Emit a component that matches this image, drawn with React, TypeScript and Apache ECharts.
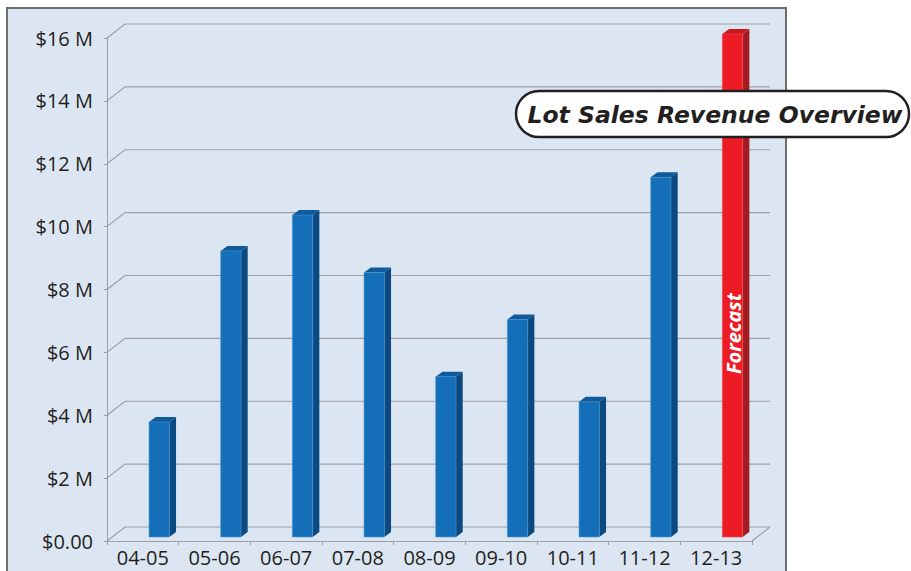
import React, { useEffect, useRef } from 'react';
import * as echarts from 'echarts';

const categories = ['04-05', '05-06', '06-07', '07-08', '08-09', '09-10', '10-11', '11-12', '12-13'];
const revenueM = [3.66, 9.1, 10.24, 8.41, 5.1, 6.92, 4.3, 11.44, 16.0];
const isForecast = [false, false, false, false, false, false, false, false, true];
const yTicks = [0, 2, 4, 6, 8, 10, 12, 14, 16];
const titleText = 'Lot Sales Revenue Overview';
const forecastText = 'Forecast';
const forecastLabelAt = 6.6;

const DEPTH_X = 18;
const DEPTH_Y = 14;
const GRID_COLOR = '#9d9fa2';
const TEXT_COLOR = '#231f20';

export default function App() {
  const ref = useRef<HTMLDivElement>(null);

  useEffect(() => {
    if (!ref.current) return;
    const chart = echarts.init(ref.current, undefined, { renderer: 'svg' });

    const option: any = {
      animation: false,
      backgroundColor: '#ffffff',
      grid: { left: 107, top: 38, right: 159, bottom: 30, outerBoundsMode: 'none' },
      xAxis: {
        type: 'category',
        data: categories,
        axisLine: { show: true, lineStyle: { color: GRID_COLOR, width: 1 } },
        axisTick: { show: true, length: 4, lineStyle: { color: GRID_COLOR } },
        axisLabel: { color: TEXT_COLOR, fontSize: 20, fontFamily: 'Open Sans', margin: 6 },
        splitLine: { show: false },
      },
      yAxis: {
        type: 'value',
        min: 0,
        max: 16,
        interval: 2,
        axisLine: { show: true, lineStyle: { color: GRID_COLOR, width: 1 } },
        axisTick: { show: true, length: 3, lineStyle: { color: GRID_COLOR } },
        splitLine: { show: false },
        axisLabel: {
          color: TEXT_COLOR,
          fontSize: 20,
          fontFamily: 'Open Sans',
          margin: 14,
          formatter: (v: number) => (v === 0 ? '$0.00' : `$${v} M`),
        },
      },
      graphic: [
        {
          type: 'rect',
          z: -1,
          silent: true,
          shape: { x: 7, y: 8, width: 779, height: 620 },
          style: { fill: '#dce6f2', stroke: '#6d6e71', lineWidth: 2 },
        },
        {
          type: 'group',
          z: 100,
          children: [
            {
              type: 'rect',
              z: 100,
              shape: { x: 516, y: 91, width: 393, height: 46, r: 23 },
              style: { fill: '#ffffff', stroke: '#231f20', lineWidth: 2.5 },
            },
            {
              type: 'text',
              z: 101,
              x: 715,
              y: 115,
              style: {
                text: titleText,
                fill: TEXT_COLOR,
                font: 'italic bold 23.5px "DejaVu Sans"',
                align: 'center',
                verticalAlign: 'middle',
              },
            },
          ],
        },
      ],
      series: [
        {
          type: 'custom',
          z: 1,
          silent: true,
          data: yTicks.map((v) => [0, v]),
          renderItem: (params: any, api: any) => {
            const cs = params.coordSys;
            const v = api.value(1);
            const y = api.coord([0, v])[1];
            const x0 = cs.x;
            const x1 = cs.x + cs.width;
            const children: any[] = [
              {
                type: 'polyline',
                shape: {
                  points: [
                    [x0, y],
                    [x0 + DEPTH_X, y - DEPTH_Y],
                    [x1 + DEPTH_X, y - DEPTH_Y],
                  ],
                },
                style: { stroke: GRID_COLOR, lineWidth: 1.2, fill: null },
              },
            ];
            if (v === 0) {
              children.push({
                type: 'line',
                shape: { x1: x1, y1: y, x2: x1 + DEPTH_X, y2: y - DEPTH_Y },
                style: { stroke: GRID_COLOR, lineWidth: 1.2 },
              });
            }
            return { type: 'group', children };
          },
        },
        {
          type: 'custom',
          z: 5,
          data: categories.map((c, i) => [i, revenueM[i], isForecast[i] ? 1 : 0]),
          renderItem: (params: any, api: any) => {
            const i = api.value(0);
            const v = api.value(1);
            const fc = api.value(2) === 1;
            const [cx, cy] = api.coord([i, v]);
            const y0 = api.coord([i, 0])[1];
            const L = cx + 6.2;
            const W = 20.3;
            const DX = 6.7;
            const DY = 5;
            const S = 4;
            const top = cy - S;
            const bot = y0 - S;
            const front = fc ? '#ed1c24' : '#156fb8';
            const side = fc ? '#a31c22' : '#0b4a80';
            const topc = fc ? '#c8171f' : '#0e5a9b';
            const edge = fc ? '#f04a50' : '#4a93d0';
            const children: any[] = [
              {
                type: 'polygon',
                shape: { points: [[L + W, bot], [L + W + DX, bot - DY], [L + W + DX, top - DY], [L + W, top]] },
                style: { fill: side },
              },
              {
                type: 'polygon',
                shape: { points: [[L, top], [L + W, top], [L + W + DX, top - DY], [L + DX, top - DY]] },
                style: { fill: topc },
              },
              {
                type: 'rect',
                shape: { x: L, y: top, width: W, height: bot - top },
                style: { fill: front, stroke: edge, lineWidth: 0.6 },
              },
            ];
            if (fc) {
              const ly = api.coord([i, forecastLabelAt])[1];
              children.push({
                type: 'text',
                x: L + W / 2 + 1,
                y: ly,
                rotation: Math.PI / 2,
                style: {
                  text: forecastText,
                  fill: '#ffffff',
                  font: 'italic bold 20px "Open Sans"',
                  align: 'center',
                  verticalAlign: 'middle',
                },
              });
            }
            return { type: 'group', children };
          },
        },
      ],
    };

    chart.setOption(option);
    return () => chart.dispose();
  }, []);

  return <div ref={ref} style={{ position: 'fixed', left: 0, top: 0, width: 911, height: 571 }} />;
}
